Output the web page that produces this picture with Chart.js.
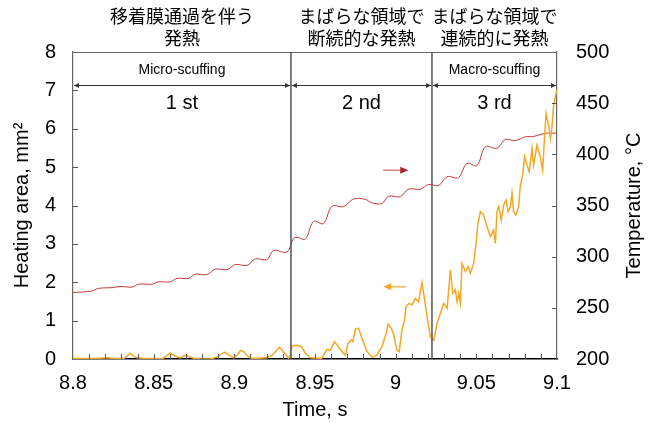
<!DOCTYPE html>
<html>
<head>
<meta charset="utf-8">
<script src="https://cdn.jsdelivr.net/npm/chart.js@4.4.1/dist/chart.umd.min.js"></script>
<style>
  html, body { margin: 0; padding: 0; background: #fff; }
</style>
</head>
<body>
<canvas id="myChart" width="651" height="423"></canvas>
<script>
// time axis, s
const xTicks = [8.8, 8.85, 8.9, 8.95, 9.0, 9.05, 9.1];
const areaTicks = [0, 1, 2, 3, 4, 5, 6, 7, 8];
const tempTicks = [200, 250, 300, 350, 400, 450, 500];

// temperature, degC (right axis)
const tempTime = [8.800, 8.8118, 8.8157, 8.825, 8.8293, 8.8366, 8.8407, 8.849, 8.8531, 8.8603,
  8.8645, 8.8717, 8.8758, 8.8831, 8.8882, 8.8955, 8.9006, 8.9079, 8.913, 8.9202,
  8.9243, 8.9326, 8.9367, 8.9388, 8.944, 8.9491, 8.9553, 8.9605, 8.9677, 8.9739,
  8.9812, 8.9853, 8.9915, 8.9956, 9.0029, 9.008, 9.0153, 9.0204, 9.0266, 9.0318,
  9.039, 9.0442, 9.0504, 9.0555, 9.0628, 9.0679, 9.0741, 9.0803, 9.0855, 9.0907,
  9.0948, 9.1];
const tempValues = [264.9, 266.4, 269.0, 269.8, 270.9, 270.3, 273.1, 273.1, 275.4, 275.4,
  278.8, 278.8, 282.9, 282.5, 287.8, 287.4, 292.3, 291.5, 297.9, 297.1,
  306.1, 304.6, 317.8, 318.9, 317.2, 334.3, 332.4, 349.3, 348.9, 356.4,
  356.0, 352.6, 351.9, 359.0, 358.6, 366.1, 365.8, 370.6, 369.5, 378.1,
  377.4, 391.3, 389.0, 407.4, 405.9, 414.5, 413.4, 417.1, 417.5, 419.8,
  420.9, 420.5];

// heating area, mm2 (left axis)
const areaTime = [8.800, 8.8107, 8.8169, 8.8211, 8.8262, 8.8318, 8.8355, 8.8374, 8.8397, 8.8448,
  8.851, 8.856, 8.8603, 8.8645, 8.8665, 8.8696, 8.8721, 8.8748, 8.8789, 8.8851,
  8.8894, 8.8938, 8.8969, 8.8995, 8.9018, 8.9037, 8.9057, 8.9074, 8.9099, 8.9148,
  8.9198, 8.9235, 8.926, 8.928, 8.9305, 8.9322, 8.9336, 8.9347, 8.9357, 8.9388,
  8.9415, 8.944, 8.9471, 8.9508, 8.9543, 8.9574, 8.9595, 8.9621, 8.9646, 8.9667,
  8.9688, 8.9704, 8.9725, 8.9735, 8.975, 8.977, 8.9795, 8.9822, 8.9853, 8.9884,
  8.9915, 8.994, 8.9953, 8.9973, 8.9988, 9.0008, 9.0022, 9.0039, 9.0055, 9.0064,
  9.0084, 9.0101, 9.0122, 9.0142, 9.0163, 9.018, 9.0201, 9.0215, 9.0236, 9.0257,
  9.0277, 9.0298, 9.0319, 9.0339, 9.0354, 9.037, 9.0381, 9.0391, 9.0401, 9.0411,
  9.0432, 9.0449, 9.0463, 9.0483, 9.0494, 9.051, 9.0525, 9.0545, 9.0566, 9.0587,
  9.0607, 9.0618, 9.0628, 9.0638, 9.0655, 9.0669, 9.0684, 9.0697, 9.0711, 9.0721,
  9.0731, 9.0746, 9.0762, 9.0772, 9.0787, 9.0799, 9.0814, 9.0828, 9.0845, 9.0855,
  9.0876, 9.0896, 9.0911, 9.0923, 9.0932, 9.0948, 9.0959, 9.0969, 9.0979, 9.0994,
  9.1];
const areaValues = [0.01, 0.01, 0.02, 0.03, 0.01, 0.02, 0.15, 0.08, 0.03, 0.01,
  0.01, 0.02, 0.15, 0.05, 0.03, 0.10, 0.06, 0.02, 0.00, 0.00,
  0.05, 0.18, 0.10, 0.03, 0.10, 0.22, 0.20, 0.12, 0.02, 0.02,
  0.03, 0.10, 0.22, 0.31, 0.18, 0.10, 0.02, 0.10, 0.34, 0.36,
  0.32, 0.15, 0.03, 0.02, 0.02, 0.25, 0.23, 0.45, 0.32, 0.19,
  0.10, 0.40, 0.50, 0.45, 0.78, 0.80, 0.50, 0.19, 0.05, 0.10,
  0.32, 0.65, 0.91, 0.80, 0.63, 0.23, 0.19, 0.75, 1.02, 1.36,
  1.45, 1.41, 1.58, 1.49, 1.99, 1.53, 0.93, 0.58, 0.49, 0.93,
  1.19, 1.45, 1.32, 2.32, 1.71, 1.80, 1.49, 1.71, 1.45, 2.49,
  2.28, 2.41, 2.23, 2.49, 2.84, 3.53, 3.84, 3.75, 3.45, 3.19,
  3.36, 3.01, 3.84, 3.97, 3.62, 4.01, 4.14, 3.84, 3.97, 4.32,
  3.84, 3.75, 3.97, 4.49, 4.79, 5.27, 5.05, 4.88, 5.49, 5.05,
  5.57, 5.27, 4.92, 5.79, 6.40, 6.09, 5.75, 6.05, 6.61, 6.92,
  7.00];

// stages
const sectionBounds = [8.8, 8.9351, 9.0225, 9.1];
const sectionNames = ['1 st', '2 nd', '3 rd'];
const scuffNames = ['Micro-scuffing', '', 'Macro-scuffing'];
const jpNotes = [['移着膜通過を伴う', '発熱'], ['まばらな領域で', '断続的な発熱'], ['まばらな領域で', '連続的に発熱']];
const sectionArrowLevel = 7.15;
const scuffLabelLevel = 7.53;
const sectionLabelLevel = 6.67;

// little arrows pointing to each axis
const tempArrowX = [8.9923, 9.0078];
const tempArrowLevel = 384.5;
const areaArrowX = [9.0064, 8.9923];
const areaArrowLevel = 1.88;

const ORANGE = '#F5A824';
const RED = '#C8383C';
const FONT = '"Liberation Sans", Arial, sans-serif';
const JP = '"Noto Sans CJK JP", sans-serif';

function head(ctx, x, y, dir, len, half) {
  ctx.beginPath();
  ctx.moveTo(x, y);
  ctx.lineTo(x - dir * len, y - half);
  ctx.lineTo(x - dir * len, y + half);
  ctx.closePath();
  ctx.fill();
}

const overlay = {
  id: 'overlay',
  afterDatasetsDraw(chart) {
    const { ctx, chartArea: a, scales } = chart;
    const x = scales.x, y = scales.y, y1 = scales.y1;
    ctx.save();

    // top edge of the frame
    ctx.strokeStyle = '#666';
    ctx.lineWidth = 1.2;
    ctx.beginPath();
    ctx.moveTo(a.left, a.top + 0.5);
    ctx.lineTo(a.right, a.top + 0.5);
    ctx.stroke();

    // inner ticks
    ctx.strokeStyle = '#555';
    ctx.lineWidth = 1;
    ctx.beginPath();
    areaTicks.slice(1, -1).forEach(v => {
      const py = Math.round(y.getPixelForValue(v)) + 0.5;
      ctx.moveTo(a.left, py); ctx.lineTo(a.left + 5, py);
    });
    tempTicks.slice(1, -1).forEach(v => {
      const py = Math.round(y1.getPixelForValue(v)) + 0.5;
      ctx.moveTo(a.right, py); ctx.lineTo(a.right - 5, py);
    });
    for (let k = 1; k < 30; k++) {
      const px = Math.round(x.getPixelForValue(8.8 + k * 0.01)) + 0.5;
      ctx.moveTo(px, a.bottom); ctx.lineTo(px, a.bottom - 5);
    }
    ctx.stroke();

    // stage dividers
    ctx.strokeStyle = '#555';
    ctx.lineWidth = 1.5;
    ctx.beginPath();
    sectionBounds.slice(1, -1).forEach(t => {
      const px = x.getPixelForValue(t);
      ctx.moveTo(px, a.top); ctx.lineTo(px, a.bottom);
    });
    ctx.stroke();

    // stage arrows and labels
    const ay = Math.round(y.getPixelForValue(sectionArrowLevel)) + 0.5;
    ctx.fillStyle = '#333';
    ctx.strokeStyle = '#333';
    ctx.lineWidth = 1;
    ctx.textAlign = 'center';
    ctx.textBaseline = 'middle';
    for (let i = 0; i < sectionNames.length; i++) {
      const xa = x.getPixelForValue(sectionBounds[i]);
      const xb = x.getPixelForValue(sectionBounds[i + 1]);
      const cx = (xa + xb) / 2;
      ctx.beginPath();
      ctx.moveTo(xa + 1, ay); ctx.lineTo(xb - 1, ay);
      ctx.stroke();
      head(ctx, xa + 1, ay, -1, 5, 2.5);
      head(ctx, xb - 1, ay, 1, 5, 2.5);

      ctx.fillStyle = '#000';
      ctx.font = '14px ' + FONT;
      if (scuffNames[i]) ctx.fillText(scuffNames[i], cx, y.getPixelForValue(scuffLabelLevel));
      ctx.font = '20px ' + FONT;
      ctx.fillText(sectionNames[i], cx, y.getPixelForValue(sectionLabelLevel));
      ctx.font = '18px ' + JP;
      ctx.fillText(jpNotes[i][0], cx, a.top - 36);
      ctx.fillText(jpNotes[i][1], cx, a.top - 14);
      ctx.fillStyle = '#333';
    }

    // red arrow -> temperature axis
    const ty = y1.getPixelForValue(tempArrowLevel);
    const tx0 = x.getPixelForValue(tempArrowX[0]);
    const tx1 = x.getPixelForValue(tempArrowX[1]);
    ctx.strokeStyle = '#D06060';
    ctx.lineWidth = 1.2;
    ctx.beginPath(); ctx.moveTo(tx0, ty); ctx.lineTo(tx1 - 6, ty); ctx.stroke();
    ctx.fillStyle = '#B0202A';
    head(ctx, tx1, ty, 1, 8, 3.5);

    // orange arrow -> area axis
    const oy = y.getPixelForValue(areaArrowLevel);
    const ox0 = x.getPixelForValue(areaArrowX[0]);
    const ox1 = x.getPixelForValue(areaArrowX[1]);
    ctx.strokeStyle = ORANGE;
    ctx.beginPath(); ctx.moveTo(ox0, oy); ctx.lineTo(ox1 + 6, oy); ctx.stroke();
    ctx.fillStyle = ORANGE;
    head(ctx, ox1, oy, -1, 8, 3.5);

    // right axis title, reading upwards
    ctx.fillStyle = '#000';
    ctx.font = '20px ' + FONT;
    ctx.translate(y1.right - 17, (a.top + a.bottom) / 2);
    ctx.rotate(-Math.PI / 2);
    ctx.fillText('Temperature, °C', 0, 0);
    ctx.restore();
  }
};

const areaPoints = areaTime.map((t, i) => ({ x: t, y: areaValues[i] }));
const tempPoints = tempTime.map((t, i) => ({ x: t, y: tempValues[i] }));

const tickFont = { family: FONT, size: 20 };

new Chart(document.getElementById('myChart'), {
  type: 'line',
  data: {
    datasets: [
      { label: 'Heating area', data: areaPoints, yAxisID: 'y', borderColor: ORANGE, borderWidth: 1.5, pointRadius: 0, tension: 0 },
      { label: 'Temperature', data: tempPoints, yAxisID: 'y1', borderColor: RED, borderWidth: 1, pointRadius: 0, tension: 0.35 }
    ]
  },
  options: {
    responsive: false,
    animation: false,
    layout: { padding: { top: 52, left: 0, right: 0, bottom: 0 } },
    plugins: { legend: { display: false }, tooltip: { enabled: false } },
    scales: {
      x: {
        type: 'linear', min: 8.8, max: 9.1,
        afterBuildTicks: s => { s.ticks = xTicks.map(v => ({ value: v })); },
        afterFit: s => { s.height = 64; },
        ticks: { font: tickFont, color: '#000', padding: 12, maxRotation: 0, autoSkip: false,
          callback: v => String(parseFloat(Number(v).toFixed(2))) },
        grid: { display: false, drawTicks: false },
        border: { color: '#000', width: 1.5 },
        title: { display: true, text: 'Time, s', color: '#000', font: tickFont, padding: { top: 0, bottom: 1 } }
      },
      y: {
        position: 'left', min: 0, max: 8,
        afterBuildTicks: s => { s.ticks = areaTicks.map(v => ({ value: v })); },
        afterFit: s => { s.width = 73; },
        ticks: { font: tickFont, color: '#000', padding: 17 },
        grid: { display: false, drawTicks: false },
        border: { color: '#666', width: 1.2 },
        title: { display: true, text: 'Heating area, mm²', color: '#000', font: tickFont, padding: { top: 10, bottom: 0 } }
      },
      y1: {
        position: 'right', min: 200, max: 500,
        afterBuildTicks: s => { s.ticks = tempTicks.map(v => ({ value: v })); },
        afterFit: s => { s.width = 94; },
        ticks: { font: tickFont, color: '#000', padding: 19 },
        grid: { display: false, drawTicks: false },
        border: { color: '#666', width: 1.2 }
      }
    }
  },
  plugins: [overlay]
});
</script>
</body>
</html>
